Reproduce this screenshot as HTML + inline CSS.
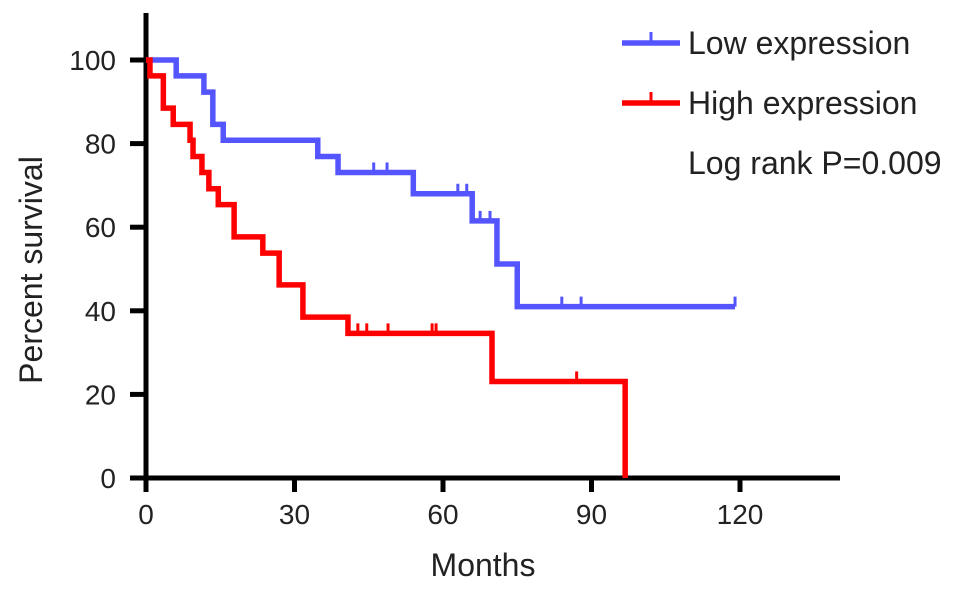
<!DOCTYPE html>
<html><head><meta charset="utf-8"><style>
body{margin:0;background:#fff;}
svg{display:block;font-family:"Liberation Sans",Arial,sans-serif;}
</style></head><body>
<svg id="chart" width="969" height="590"></svg>
<script>
const xTicks=[0,30,60,90,120];
const yTicks=[0,20,40,60,80,100];
// step data: [month, value after step]
const lowTimes=[0,6.1,11.7,13.5,15.6,34.7,38.8,54,65.9,70.9,75,119];
const lowVals=[100,96.2,92.3,84.6,80.8,76.9,73.1,68,61.5,51.2,41,41];
const lowCensor=[46,48.7,63,64.8,67.5,69.5,84,87.9,119];
const highTimes=[0,0.8,3.5,5.5,8.9,9.5,11.3,12.7,14.6,17.8,23.6,26.9,31.7,40.8,69.9,96.8];
const highVals=[100,96.2,88.5,84.6,80.8,76.9,73.1,69.2,65.4,57.7,53.8,46.2,38.5,34.6,23.1,0];
const highCensor=[42.8,44.6,48.9,57.8,58.6,87];
const NS="http://www.w3.org/2000/svg";
const svg=document.getElementById('chart');
const X=m=>146+m*4.95, Y=v=>478-v*4.18;
function el(t,a,parent){const e=document.createElementNS(NS,t);for(const k in a)e.setAttribute(k,a[k]);(parent||svg).appendChild(e);return e;}
let ax=el('line',{x1:146,y1:13,x2:146,y2:481,stroke:'#000','stroke-width':5});


ax=el('line',{x1:144,y1:478,x2:840,y2:478,stroke:'#000','stroke-width':5});


yTicks.forEach(v=>{
 const t=el('line',{x1:130,y1:Y(v),x2:146,y2:Y(v),stroke:'#000','stroke-width':5});
 
 
 const l=el('text',{x:116,y:Y(v)+10,'text-anchor':'end','font-size':28,fill:'#222'});l.textContent=v;
 
 
});
xTicks.forEach(m=>{
 const t=el('line',{x1:X(m),y1:478,x2:X(m),y2:492,stroke:'#000','stroke-width':5});
 
 
 const l=el('text',{x:X(m),y:524,'text-anchor':'middle','font-size':28,fill:'#222'});l.textContent=m;
 
 
});
let yt=el('text',{x:0,y:0,transform:'translate(42,270) rotate(-90)','text-anchor':'middle','font-size':32,fill:'#222'});yt.textContent='Percent survival';


let xt=el('text',{x:483,y:576,'text-anchor':'middle','font-size':32,fill:'#222'});xt.textContent='Months';


function stepVal(times,vals,m){let v=vals[0];for(let i=0;i<times.length;i++){if(times[i]<=m)v=vals[i];}return v;}
function drawSeries(times,vals,cens,color,name){
 let d='M'+X(times[0])+','+Y(vals[0]);
 for(let i=1;i<times.length;i++){d+=' H'+X(times[i])+' V'+Y(vals[i]);}
 const p=el('path',{d:d,fill:'none',stroke:color,'stroke-width':5.5,'stroke-linejoin':'miter'});
 
 
 cens.forEach(m=>{
  const v=stepVal(times,vals,m);
  const c=el('line',{x1:X(m),y1:Y(v),x2:X(m),y2:Y(v)-10,stroke:color,'stroke-width':3});
  
  
 });
}
drawSeries(lowTimes,lowVals,lowCensor,'#5555ff','low-expression');
drawSeries(highTimes,highVals,highCensor,'#ff0000','high-expression');
function legend(y,color,text,name){
 const g=el('g',{});
 
 
 el('line',{x1:622,y1:y,x2:680,y2:y,stroke:color,'stroke-width':5.5},g);
 el('line',{x1:651,y1:y,x2:651,y2:y-11,stroke:color,'stroke-width':3},g);
 const t=el('text',{x:688,y:y+11,'font-size':32,fill:'#222'},g);t.textContent=text;
}
legend(43,'#5555ff','Low expression','legend-low-expression');
legend(103,'#ff0000','High expression','legend-high-expression');
const lr=el('text',{x:688,y:174,'font-size':32,fill:'#222'});lr.textContent='Log rank P=0.009';


</script>
</body></html>
